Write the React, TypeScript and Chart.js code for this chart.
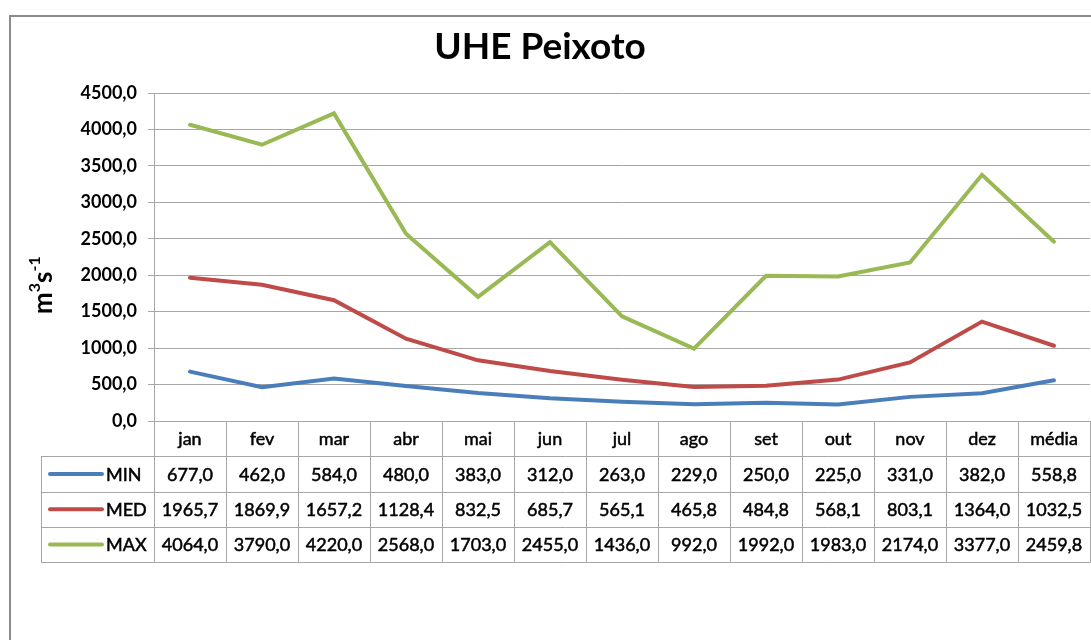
import React, { useEffect, useRef } from "react";
import { Chart, registerables } from "chart.js";

Chart.register(...registerables);

const titleText = "UHE Peixoto";
const months = ["jan", "fev", "mar", "abr", "mai", "jun", "jul", "ago", "set", "out", "nov", "dez", "média"];
const minValues = [677.0, 462.0, 584.0, 480.0, 383.0, 312.0, 263.0, 229.0, 250.0, 225.0, 331.0, 382.0, 558.8];
const medValues = [1965.7, 1869.9, 1657.2, 1128.4, 832.5, 685.7, 565.1, 465.8, 484.8, 568.1, 803.1, 1364.0, 1032.5];
const maxValues = [4064.0, 3790.0, 4220.0, 2568.0, 1703.0, 2455.0, 1436.0, 992.0, 1992.0, 1983.0, 2174.0, 3377.0, 2459.8];
const seriesNames = ["MIN", "MED", "MAX"];
const seriesColors = ["#4a7ebb", "#be4b48", "#98b954"];
const yMin = 0;
const yMax = 4500;
const yStep = 500;

const FONT = "Lato, 'Open Sans', sans-serif";
const GRID = "#a6a6a6";

const fmt = (v: number) => v.toFixed(1).replace(".", ",");

const heavyText = (ctx: CanvasRenderingContext2D, s: string, x: number, y: number) => {
  ctx.fillText(s, x, y);
  ctx.strokeText(s, x, y);
};

const decorPlugin = {
  id: "decor",
  afterDraw(chart: any) {
    const { ctx, chartArea, scales } = chart;
    const x = scales.x;
    const rowH = 35.3;
    const top = chartArea.bottom;
    const step = x.getPixelForValue(1) - x.getPixelForValue(0);
    const half = step / 2;
    const legendLeft = 41;
    const right = chartArea.right;
    const datasets = chart.data.datasets;
    const nRows = datasets.length + 1;

    ctx.save();
    // outer border
    ctx.strokeStyle = "#8c8c8c";
    ctx.lineWidth = 2;
    ctx.beginPath();
    ctx.moveTo(10, 640);
    ctx.lineTo(10, 16);
    ctx.lineTo(1091, 16);
    ctx.stroke();

    // title
    ctx.fillStyle = "#000";
    ctx.font = `bold 37px ${FONT}`;
    ctx.textAlign = "center";
    ctx.textBaseline = "middle";
    ctx.fillText(titleText, 540, 47);

    // y-axis label m3s-1 rotated
    ctx.save();
    ctx.translate(52, 314);
    ctx.rotate(-Math.PI / 2);
    ctx.textAlign = "left";
    ctx.textBaseline = "alphabetic";
    let cx = 0;
    const big = `bold 26px ${FONT}`;
    const small = `bold 16px ${FONT}`;
    ctx.font = big;
    ctx.fillText("m", cx, 0);
    cx += ctx.measureText("m").width;
    ctx.font = small;
    ctx.fillText("3", cx, -12);
    cx += ctx.measureText("3").width;
    ctx.font = big;
    ctx.fillText("s", cx, 0);
    cx += ctx.measureText("s").width;
    ctx.font = small;
    ctx.fillText("-1", cx, -12);
    ctx.restore();

    // table grid
    ctx.strokeStyle = GRID;
    ctx.lineWidth = 1;
    ctx.beginPath();
    for (let r = 1; r <= nRows; r++) {
      const yy = Math.round(top + rowH * r) + 0.5;
      ctx.moveTo(legendLeft, yy);
      ctx.lineTo(right, yy);
    }
    for (let i = 0; i <= months.length; i++) {
      const xx = Math.round(x.getPixelForValue(0) - half + step * i) + 0.5;
      ctx.moveTo(xx, top);
      ctx.lineTo(xx, Math.round(top + rowH * nRows) + 0.5);
    }
    ctx.moveTo(legendLeft + 0.5, Math.round(top + rowH) + 0.5);
    ctx.lineTo(legendLeft + 0.5, Math.round(top + rowH * nRows) + 0.5);
    ctx.stroke();

    // header labels
    ctx.fillStyle = "#000";
    ctx.strokeStyle = "#000";
    ctx.lineWidth = 0.5;
    ctx.font = `18px ${FONT}`;
    ctx.textAlign = "center";
    ctx.textBaseline = "middle";
    months.forEach((m, i) => {
      heavyText(ctx, m, x.getPixelForValue(i), top + rowH / 2 + 1);
    });

    // rows
    datasets.forEach((ds: any, r: number) => {
      const cy = top + rowH * (r + 1.5) + 1;
      ctx.textAlign = "center";
      ctx.strokeStyle = "#000";
      ctx.lineWidth = 0.5;
      ds.data.forEach((v: number, i: number) => {
        heavyText(ctx, fmt(v), x.getPixelForValue(i), cy);
      });
      ctx.textAlign = "left";
      heavyText(ctx, ds.label, 106, cy);
      // legend key
      ctx.strokeStyle = ds.borderColor;
      ctx.lineWidth = 4;
      ctx.lineCap = "round";
      ctx.beginPath();
      ctx.moveTo(50, cy - 1);
      ctx.lineTo(102, cy - 1);
      ctx.stroke();
    });
    ctx.restore();
  },
};

export default function App() {
  const ref = useRef<HTMLCanvasElement | null>(null);
  useEffect(() => {
    if (!ref.current) return;
    const chart = new Chart(ref.current, {
      type: "line",
      data: {
        labels: months,
        datasets: [minValues, medValues, maxValues].map((d, i) => ({
          label: seriesNames[i],
          data: d,
          borderColor: seriesColors[i],
          backgroundColor: seriesColors[i],
          borderWidth: 4,
          pointRadius: 0,
          tension: 0,
          borderCapStyle: "round" as const,
          borderJoinStyle: "miter" as const,
        })),
      },
      options: {
        animation: false,
        responsive: false,
        maintainAspectRatio: false,
        layout: { padding: { left: 0, top: 93, right: 1, bottom: 219 } },
        plugins: { legend: { display: false }, title: { display: false }, tooltip: { enabled: false } },
        scales: {
          x: { type: "category", offset: true, display: false },
          y: {
            min: yMin,
            max: yMax,
            ticks: {
              stepSize: yStep,
              color: "#000",
              font: { family: FONT, size: 18, weight: "bold" },
              padding: 11,
              callback: (v: any) => fmt(Number(v)),
            },
            grid: { color: GRID, tickLength: 6, tickColor: GRID, lineWidth: 1 },
            border: { display: true, color: GRID, width: 1 },
            afterFit: (scale: any) => {
              scale.width = 154;
            },
          },
        },
      },
      plugins: [decorPlugin],
    });
    return () => chart.destroy();
  }, []);
  return (
    <div style={{ position: "fixed", left: 0, top: 0, width: 1091, height: 640, background: "#fff" }}>
      <canvas ref={ref} width={1091} height={640} style={{ width: 1091, height: 640, display: "block" }} />
    </div>
  );
}
